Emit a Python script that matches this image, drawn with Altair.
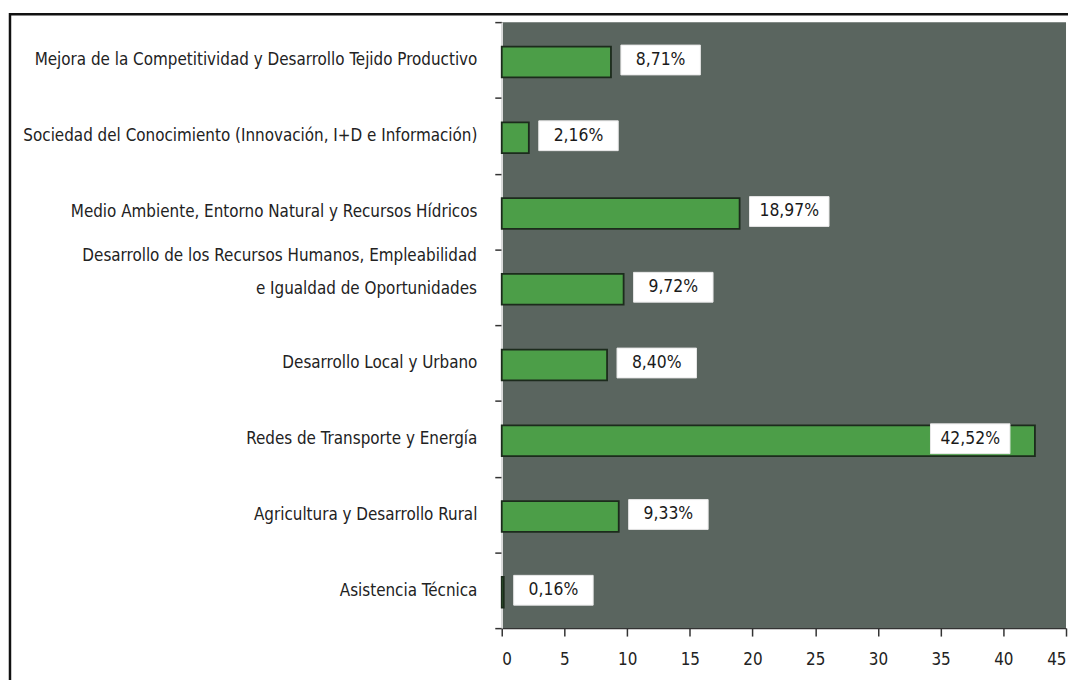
import altair as alt
import pandas as pd

categories = [
    "Mejora de la Competitividad y Desarrollo Tejido Productivo",
    "Sociedad del Conocimiento (Innovación, I+D e Información)",
    "Medio Ambiente, Entorno Natural y Recursos Hídricos",
    "Desarrollo de los Recursos Humanos, Empleabilidad|e Igualdad de Oportunidades",
    "Desarrollo Local y Urbano",
    "Redes de Transporte y Energía",
    "Agricultura y Desarrollo Rural",
    "Asistencia Técnica",
]
values = [8.71, 2.16, 18.97, 9.72, 8.40, 42.52, 9.33, 0.16]
labels = ["8,71%", "2,16%", "18,97%", "9,72%", "8,40%", "42,52%", "9,33%", "0,16%"]
x_ticks = [0, 5, 10, 15, 20, 25, 30, 35, 40, 45]

df = pd.DataFrame({"cat": categories, "v": values, "lab": labels})

FONT = "DejaVu Sans Condensed"
FS = 17
W, H = 568, 610

x_scale = alt.Scale(domain=[0, 45], nice=False, zero=True)
y_scale = alt.Scale(domain=categories, paddingInner=0, paddingOuter=0)
y_enc = alt.Y(
    "cat:N",
    sort=categories,
    title=None,
    scale=y_scale,
    axis=alt.Axis(
        labelExpr="indexof(datum.label, '|') >= 0 ? '' : datum.label",
        labelFont=FONT,
        labelFontSize=FS,
        labelColor="#222222",
        labelLimit=600,
        labelPadding=18,
        tickBand="extent",
        tickSize=7,
        tickColor="#333333",
        tickWidth=1.5,
        domainColor="#dddddd",
        domainWidth=1.5,
        grid=False,
    ),
)

base = alt.Chart(df)

frame = base.mark_rect(filled=False, stroke="#111111", strokeWidth=2.5, clip=False).encode(
    x=alt.value(-495), x2=alt.value(900), y=alt.value(-8), y2=alt.value(900)
).transform_filter("datum.v == 0.16")

bars = base.mark_bar(
    color="#4c9e48", stroke="#1c2b1c", strokeWidth=1.8, height=31, yOffset=2
).encode(
    x=alt.X(
        "v:Q",
        scale=x_scale,
        title=None,
        axis=alt.Axis(
            values=x_ticks,
            labelFont=FONT,
            labelFontSize=FS,
            labelColor="#222222",
            labelPadding=16,
            tickSize=8,
            tickColor="#333333",
            tickWidth=1.5,
            domainColor="#333333",
            domainWidth=1.5,
            grid=False,
        ),
    ),
    y=y_enc,
)

multi = base.transform_filter("indexof(datum.cat, '|') >= 0").transform_calculate(
    lines="split(datum.cat, '|')"
).mark_text(
    font=FONT, fontSize=FS, color="#222222", align="right", baseline="middle",
    lineHeight=33, dy=-31, clip=False
).encode(x=alt.value(-25), y=alt.Y("cat:N", scale=y_scale), text="lines:N")

boxes = base.transform_calculate(lx="min(datum.v, 33.4)").mark_rect(
    color="#ffffff", width=80, height=30, xOffset=50, stroke="#e8e8e8", strokeWidth=1
).encode(x=alt.X("lx:Q", scale=x_scale), y=alt.Y("cat:N", scale=y_scale))

texts = base.transform_calculate(lx="min(datum.v, 33.4)").mark_text(
    font=FONT, fontSize=17.5, color="#1a1a1a", dx=50, align="center", baseline="middle"
).encode(x=alt.X("lx:Q", scale=x_scale), y=alt.Y("cat:N", scale=y_scale), text="lab:N")

chart = alt.layer(frame, bars, boxes, texts, multi).properties(
    width=W,
    height=H,
    autosize=alt.AutoSizeParams(type="none"),
    padding={"left": 497, "top": 12, "right": 2, "bottom": 50},
    background="#ffffff",
).configure_view(fill="#5a655f", stroke=None)

chart.save("out.html", embed_options={"renderer": "svg", "actions": False})
